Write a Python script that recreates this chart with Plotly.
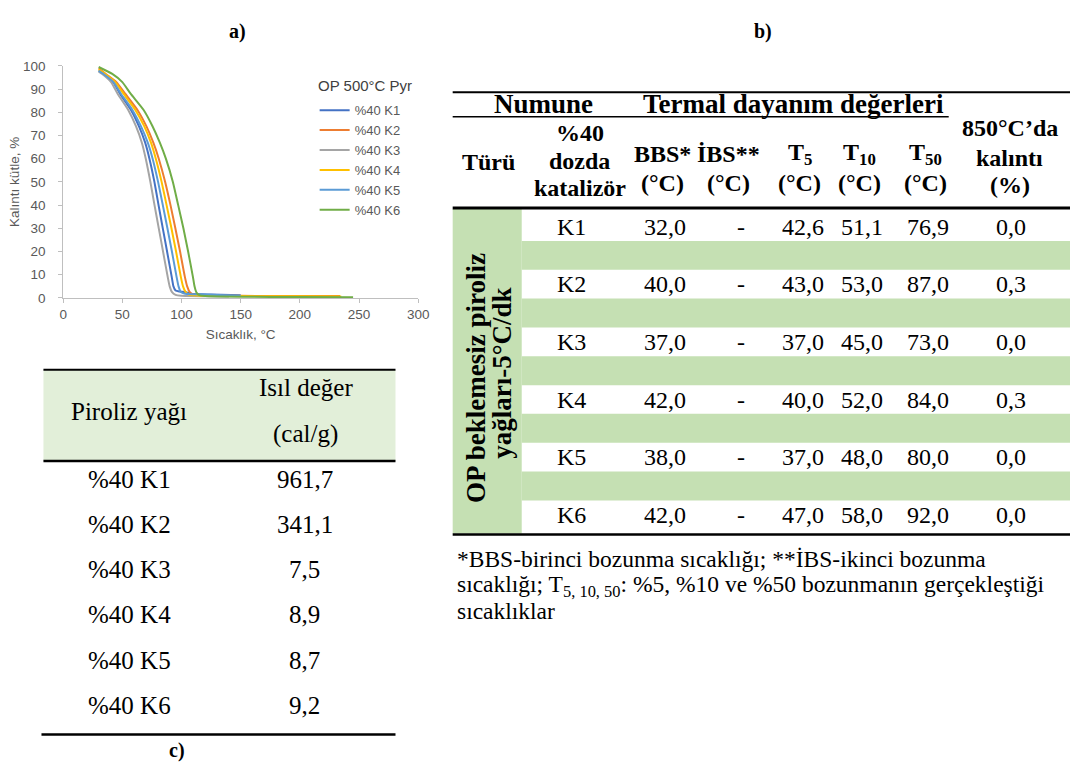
import plotly.graph_objects as go

# ---------------- data ----------------
series_names = ["%40 K1", "%40 K2", "%40 K3", "%40 K4", "%40 K5", "%40 K6"]
legend_title = "OP 500°C Pyr"

k1_x = [30, 34.5, 42.3, 48, 57.3, 64, 69.3, 72.9, 77.1, 80.6, 84.2, 87.8, 91.7, 93.2, 95, 98, 103, 108, 125, 150]
k1_y = [98, 96.5, 93, 88, 81, 74, 66.9, 60, 50, 40, 30, 20, 9.2, 5, 3.2, 2.8, 2.6, 1.8, 1.5, 1.2]

k2_x = [30, 36, 45, 52.4, 62.8, 70.3, 76.2, 80.8, 86.2, 90.7, 94.8, 98.8, 102.8, 104.8, 107, 110, 120, 150, 200, 234]
k2_y = [99, 96.5, 93, 88, 81, 74, 66.9, 60, 50, 40, 30, 20, 9.2, 5, 2.5, 1.5, 1.1, 0.9, 0.8, 0.8]

k3_x = [30, 33, 40.5, 46, 55, 61.5, 66.5, 69.8, 73.7, 77.2, 80.8, 84.4, 88.3, 90, 92, 95, 100, 120, 140]
k3_y = [97.5, 96.5, 93, 88, 81, 74, 66.9, 60, 50, 40, 30, 20, 9.2, 5, 2.5, 1.3, 0.9, 0.7, 0.6]

k4_x = [30, 35.5, 44, 51, 61, 68.5, 74.2, 78.3, 83.2, 87.4, 91.5, 95.4, 99.4, 101.3, 103.5, 106.5, 115, 150, 200, 235]
k4_y = [98.5, 96.5, 93, 88, 81, 74, 66.9, 60, 50, 40, 30, 20, 9.2, 5, 2.5, 1.3, 1.0, 0.8, 0.7, 0.6]

k5_x = [30, 34, 42.5, 48.8, 58.5, 65.7, 71.5, 75.6, 80.2, 84.2, 88.1, 91.9, 95.8, 97.5, 99.5, 103, 110, 130, 150]
k5_y = [97.8, 96.5, 93, 88, 81, 74, 66.9, 60, 50, 40, 30, 20, 9.2, 5, 2.5, 1.8, 1.6, 1.3, 1.0]

k6_x = [30, 41.5, 50, 57, 68, 75.5, 81.7, 86.8, 92.7, 97.2, 101.6, 105.6, 109.6, 111, 112.5, 115, 120, 150, 200, 245]
k6_y = [99.5, 96.5, 93, 88, 81, 74, 66.9, 60, 50, 40, 30, 20, 9.2, 5, 2.5, 1.2, 0.8, 0.5, 0.4, 0.3]

x_ticks = [0, 50, 100, 150, 200, 250, 300]
y_ticks = [0, 10, 20, 30, 40, 50, 60, 70, 80, 90, 100]

# table c
oil_labels = ["%40 K1", "%40 K2", "%40 K3", "%40 K4", "%40 K5", "%40 K6"]
heating_values = [961.7, 341.1, 7.5, 8.9, 8.7, 9.2]

# table b
catalysts = ["K1", "K2", "K3", "K4", "K5", "K6"]
bbs = [32.0, 40.0, 37.0, 42.0, 38.0, 42.0]
ibs = ["-", "-", "-", "-", "-", "-"]
t5 = [42.6, 43.0, 37.0, 40.0, 37.0, 47.0]
t10 = [51.1, 53.0, 45.0, 52.0, 48.0, 58.0]
t50 = [76.9, 87.0, 73.0, 84.0, 80.0, 92.0]
residue = [0.0, 0.3, 0.0, 0.3, 0.0, 0.0]

# ---------------- styling ----------------
W, H = 1081, 774
colors = ["#4472c4", "#ed7d31", "#a5a5a5", "#ffc000", "#5b9bd5", "#70ad47"]
SERIF = "Liberation Serif, Times New Roman, serif"
SANS = "Liberation Sans, Arial, sans-serif"


def px(x):
    return x / W


def py(y):
    return 1 - y / H


def fmt(v):
    return f"{v:.1f}".replace(".", ",")


fig = go.Figure()
curves = [(k1_x, k1_y), (k2_x, k2_y), (k3_x, k3_y), (k4_x, k4_y), (k5_x, k5_y), (k6_x, k6_y)]
for name, (xs, ys), c in zip(series_names, curves, colors):
    fig.add_trace(go.Scatter(x=xs, y=ys, mode="lines", name=name,
                             line=dict(color=c, width=2, shape="spline", smoothing=0.5)))

annotations = []
shapes = []


def text(x, y, s, size, font=SERIF, color="black", **kw):
    d = dict(x=px(x), y=py(y), xref="paper", yref="paper", text=s, showarrow=False,
             font=dict(family=font, size=size, color=color), xanchor="center", yanchor="middle")
    d.update(kw)
    annotations.append(d)


def lines(x, ys, parts, size, bold=True, **kw):
    for yy, s in zip(ys, parts):
        text(x, yy, f"<b>{s}</b>" if bold else s, size, **kw)


def hline(x0, x1, y, w):
    shapes.append(dict(type="line", xref="paper", yref="paper", x0=px(x0), x1=px(x1),
                       y0=py(y), y1=py(y), line=dict(color="black", width=w)))


def rect(x0, x1, y0, y1, color):
    shapes.append(dict(type="rect", xref="paper", yref="paper", x0=px(x0), x1=px(x1),
                       y0=py(y1), y1=py(y0), fillcolor=color, line=dict(width=0), layer="below"))


# panel labels
text(237, 25, "<b>a)</b>", 20)
text(770, 25, "<b>b)</b>", 20)
text(175, 758, "<b>c)</b>", 20)

# legend title of chart a
text(316, 80, legend_title, 15, font=SANS, color="#404040", xanchor="left")

# ---------------- table c ----------------
TC = 25
rect(40, 397, 370, 463, "#e2efd9")
hline(40, 397, 370, 2)
hline(40, 397, 463, 2.5)
hline(38, 397, 742, 2.5)
text(127, 412, "Piroliz yağı", TC)
text(306, 388, "Isıl değer", TC)
text(306, 435, "(cal/g)", TC)
for i, (lab, val) in enumerate(zip(oil_labels, heating_values)):
    yy = 482 + 46 * i
    text(127, yy, lab, TC)
    text(305, yy, fmt(val), TC)

# ---------------- table b ----------------
row_y0 = 224
row_h = 58.8
rect(455, 525, 206, 537, "#c5e0b3")
for i in range(5):
    yc = row_y0 + row_h * i
    rect(525, 1081, yc + 14.5, yc + 44, "#c5e0b3")
hline(455, 1081, 87, 2)
hline(455, 958, 112, 1.5)
hline(455, 1081, 205, 3)
hline(455, 1081, 538, 2.5)

H1 = 27
H2 = 24
text(547, 99, "<b>Numune</b>", H1)
text(801, 99, "<b>Termal dayanım değerleri</b>", H1)
text(491, 158, "<b>Türü</b>", H2)
lines(584, [129, 157, 185], ["%40", "dozda", "katalizör"], H2)
lines(668, [150, 179], ["BBS*", "(°C)"], H2)
lines(735, [150, 179], ["İBS**", "(°C)"], H2)
lines(807, [150, 179], ["T<sub>5</sub>", "(°C)"], H2)
lines(868, [150, 179], ["T<sub>10</sub>", "(°C)"], H2)
lines(934, [150, 179], ["T<sub>50</sub>", "(°C)"], H2)
lines(1020, [123, 154, 182], ["850°C’da", "kalıntı", "(%)"], H2)

text(478, 378, "<b>OP beklemesiz piroliz</b>", 27, textangle=-90)
text(505, 373, "<b>yağları-5°C/dk</b>", 27, textangle=-90)

DB = 24
for i in range(6):
    yy = row_y0 + row_h * i
    text(575, yy, catalysts[i], DB)
    text(670, yy, fmt(bbs[i]), DB)
    text(747, yy, ibs[i], DB)
    text(810, yy, fmt(t5[i]), DB)
    text(870, yy, fmt(t10[i]), DB)
    text(937, yy, fmt(t50[i]), DB)
    text(1021, yy, fmt(residue[i]), DB)

FN = 23.5
foot = ["*BBS-birinci bozunma sıcaklığı; **İBS-ikinci bozunma",
        "sıcaklığı; T<sub>5, 10, 50</sub>: %5, %10 ve %50 bozunmanın gerçekleştiği",
        "sıcaklıklar"]
for yy, s in zip([563, 590, 616], foot):
    text(457, yy, s, FN, xanchor="left")

# ---------------- chart a axes ----------------
TF = 13.5
axis_common = dict(showgrid=False, zeroline=False, showline=True, linecolor="#bfbfbf", linewidth=1,
                   ticks="outside", ticklen=4, tickcolor="#bfbfbf",
                   tickfont=dict(family=SANS, size=TF, color="#595959"))
fig.update_layout(
    width=W, height=H, margin=dict(l=0, r=0, t=0, b=0), autosize=False,
    paper_bgcolor="white", plot_bgcolor="white",
    xaxis=dict(domain=[px(60), px(420)], range=[0, 300], tickvals=x_ticks, **axis_common,
               title=dict(text="Sıcaklık, °C", font=dict(family=SANS, size=TF, color="#595959"), standoff=8)),
    yaxis=dict(domain=[py(296.7), py(60)], range=[0, 100], tickvals=y_ticks, **axis_common,
               ticklabelstandoff=10,
               title=dict(text="Kalıntı kütle, %", font=dict(family=SANS, size=TF, color="#595959"), standoff=0)),
    legend=dict(x=px(315), y=py(90), xanchor="left", yanchor="top", bgcolor="rgba(0,0,0,0)",
                font=dict(family=SANS, size=13, color="#595959"), tracegroupgap=0),
    annotations=annotations, shapes=shapes, showlegend=True,
)

fig.write_html("out.html")
